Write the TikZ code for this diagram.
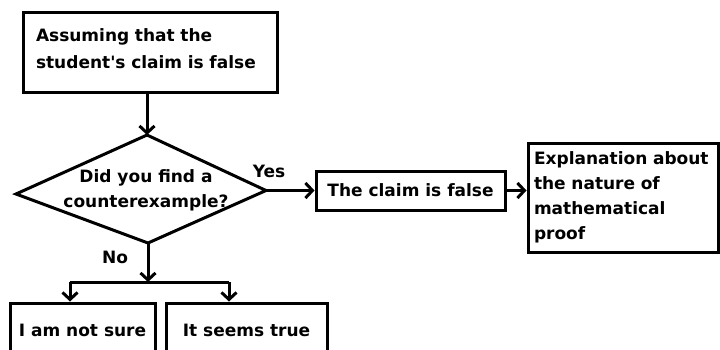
\documentclass[tikz,border=0pt]{standalone}
\usepackage{fontspec}
\setmainfont{DejaVu Sans}[Ligatures=TeXOff]
\usetikzlibrary{arrows.meta}
\begin{document}
\begin{tikzpicture}[x=1pt,y=-1pt,
  txt/.style={font=\bfseries\fontsize{17}{25}\selectfont},
  box/.style={txt,draw,line width=3pt,rectangle,inner sep=0pt},
  conn/.style={line width=3pt,-{Straight Barb[length=7pt,width=15pt]}},
  plain/.style={line width=3pt}]
\useasboundingbox (0,0) rectangle (720,349);
\clip (0,0) rectangle (720,349);
\fill[white] (0,0) rectangle (720,349);
% boxes
\node[box,minimum width=254pt,minimum height=80pt,text width=228pt,align=left] (top) at (150,52)
  {\raisebox{7pt}{\parbox[b]{228pt}{\fontsize{17}{27}\selectfont Assuming that the\\student's claim is false}}};
\node[box,minimum width=189pt,minimum height=39pt] (claim) at (410.5,190.5) {The claim is false};
\node[box,minimum width=190pt,minimum height=109pt,text width=178pt,align=left] (expl) at (623,197.5)
  {Explanation about\\the nature of\\mathematical\\proof};
\node[box,minimum width=145pt,minimum height=54pt] (left) at (82.5,330) {I am not sure};
\node[box,minimum width=161pt,minimum height=54pt] (right) at (246.5,330) {It seems true};
% decision
\node[txt,align=center] (q) at (146,190) {Did you find a\\counterexample?};
\coordinate (dt) at (147,135);
\coordinate (dr) at (266,190.5);
\coordinate (db) at (148,243);
\coordinate (dl) at (16,194);
\draw[plain,line join=miter] (dt) -- (dr) -- (db) -- (dl) -- cycle;
\node[txt] (yes) at (269,171) {Yes};
\node[txt] (no) at (115,257) {No};
% junction
\coordinate (j) at (148,282);
\coordinate (jl) at (70,282);
\coordinate (jr) at (229,282);
% connectors
\draw[conn] (dt |- top.south) -- (dt);
\draw[conn] (dr) -- (claim.west);
\draw[conn] (claim.east) -- (expl.west |- claim.east);
\draw[conn] (db) -- (j);
\draw[plain] (jl) -- (jr);
\draw[conn] (jl) -- (jl |- left.north);
\draw[conn] (jr) -- (jr |- right.north);
\end{tikzpicture}
\end{document}
